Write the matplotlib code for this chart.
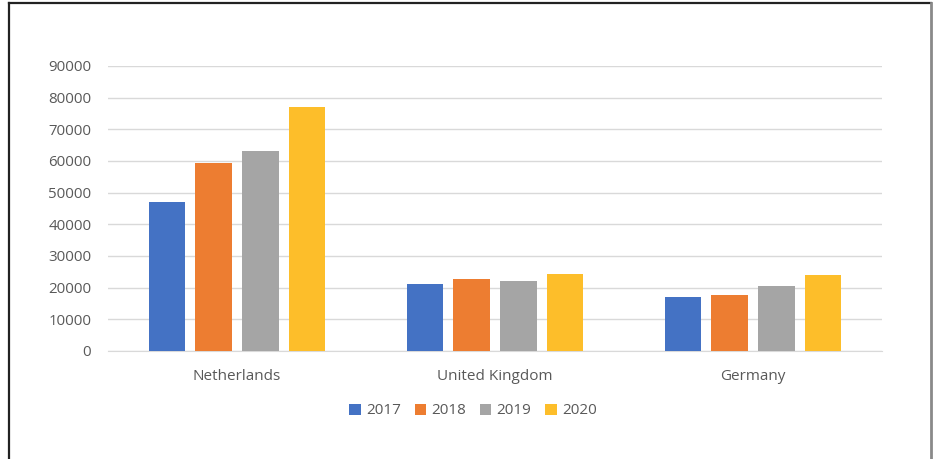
import matplotlib
matplotlib.use("Agg")
import matplotlib.pyplot as plt
import numpy as np
from matplotlib.lines import Line2D
from matplotlib.patches import Patch

categories = ["Netherlands", "United Kingdom", "Germany"]
years = ["2017", "2018", "2019", "2020"]
values_2017 = [47100, 21100, 17100]
values_2018 = [59500, 22800, 17800]
values_2019 = [63300, 21950, 20600]
values_2020 = [77100, 24200, 23850]
series = [values_2017, values_2018, values_2019, values_2020]
colors = ["#4472C4", "#ED7D31", "#A5A5A5", "#FDBE2A"]
yticks = list(range(0, 90001, 10000))

plt.rcParams['font.family'] = ['Open Sans', 'DejaVu Sans']

W, H = 938, 459
fig = plt.figure(figsize=(W / 100, H / 100), dpi=100)
ax = fig.add_axes([108 / W, 1 - 351 / H, (882 - 108) / W, (351 - 66) / H])

x = np.arange(len(categories))
step = 0.182
width = 0.14
for i, (vals, c) in enumerate(zip(series, colors)):
    ax.bar(x + (i - 1.5) * step, vals, width=width, color=c, zorder=3, label=years[i])

ax.set_xlim(-0.5, len(categories) - 0.5)
ax.set_ylim(0, 90000)
ax.set_yticks(yticks)
ax.set_yticklabels([str(v) for v in yticks])
ax.set_xticks(x)
ax.set_xticklabels(categories)
ax.yaxis.grid(True, color="#D9D9D9", linewidth=1, zorder=0)
ax.set_axisbelow(True)
for s in ["top", "right", "left"]:
    ax.spines[s].set_visible(False)
ax.spines["bottom"].set_color("#D9D9D9")
ax.tick_params(axis="y", length=0, colors="#595959", labelsize=10.8, pad=12)
ax.tick_params(axis="x", length=0, colors="#595959", labelsize=11, pad=13)

handles = [Patch(facecolor=c, edgecolor="none") for c in colors]
fig.legend(handles, years, loc="center", bbox_to_anchor=(473 / W, 1 - 411 / H),
           ncol=4, frameon=False, handlelength=0.75, handleheight=0.75,
           handletextpad=0.35, columnspacing=0.9, fontsize=11, labelcolor="#595959")

# outer frame
fig.add_artist(Line2D([9 / W, 9 / W], [0, 1 - 3 / H], transform=fig.transFigure, color="#222222", linewidth=1.6))
fig.add_artist(Line2D([9 / W, 931 / W], [1 - 3 / H, 1 - 3 / H], transform=fig.transFigure, color="#222222", linewidth=1.6))
fig.add_artist(Line2D([931 / W, 931 / W], [0, 1 - 3 / H], transform=fig.transFigure, color="#8a8a8a", linewidth=2))

fig.savefig("out.png", dpi=100)
